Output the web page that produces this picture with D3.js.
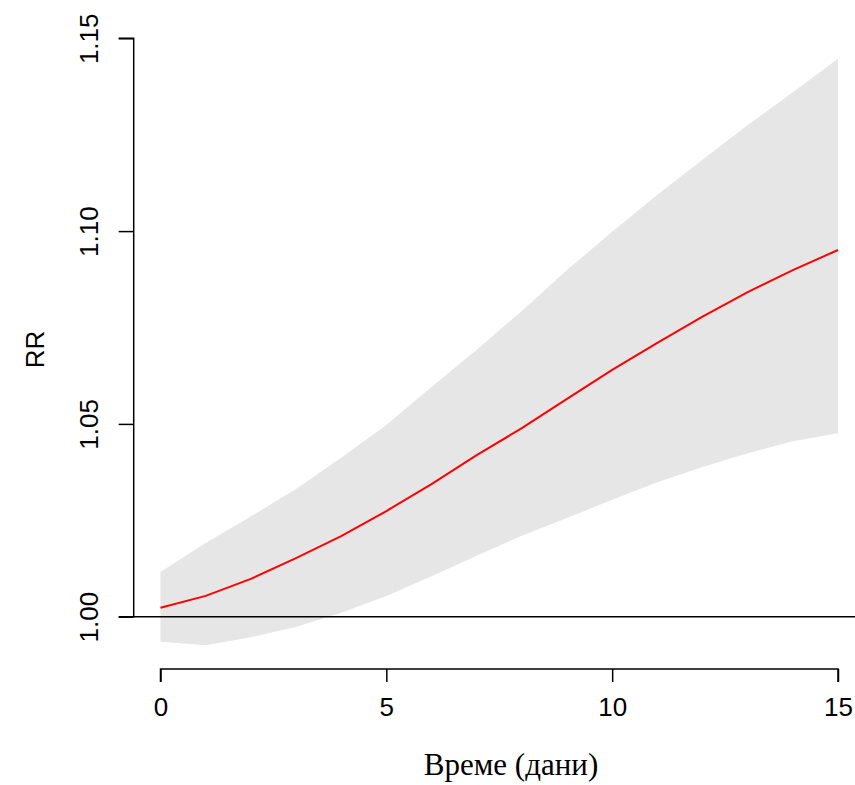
<!DOCTYPE html>
<html>
<head>
<meta charset="utf-8">
<script src="https://cdn.jsdelivr.net/npm/d3@7"></script>
<style>
  html, body { margin: 0; padding: 0; background: #fff; }
  svg { display: block; }
</style>
</head>
<body>
<script>
// Relative risk by lag (days) with its confidence band
const days = [0, 1, 2, 3, 4, 5, 6, 7, 8, 9, 10, 11, 12, 13, 14, 15];
const rr = [1.0023, 1.0054, 1.0098, 1.0152, 1.0209, 1.0274, 1.0344, 1.0419, 1.0489, 1.0565, 1.0640, 1.0710, 1.0778, 1.0842, 1.0899, 1.0951];
const rrHigh = [1.0116, 1.0191, 1.0260, 1.0331, 1.0412, 1.0497, 1.0596, 1.0692, 1.0793, 1.0899, 1.0998, 1.1094, 1.1185, 1.1275, 1.1360, 1.1447];
const rrLow = [0.9935, 0.9926, 0.9947, 0.9973, 1.0010, 1.0054, 1.0105, 1.0158, 1.0210, 1.0256, 1.0303, 1.0349, 1.0388, 1.0424, 1.0455, 1.0476];
const xTicks = [0, 5, 10, 15];
const yTicks = [1.00, 1.05, 1.10, 1.15];
const xTitle = "Време (дани)";
const yTitle = "RR";

const W = 855, H = 785;
const svg = d3.select("body").append("svg").attr("width", W).attr("height", H);

const x = d3.scaleLinear().domain([0, 15]).range([160.5, 838]);
const y = d3.scaleLinear().domain([1.00, 1.15]).range([616.7, 38.3]);

// confidence band
const area = d3.area()
  .x((d, i) => x(days[i]))
  .y0((d, i) => y(rrLow[i]))
  .y1((d, i) => y(rrHigh[i]));
svg.append("path").datum(days).attr("d", area).attr("fill", "#e6e6e6");

// reference line at RR = 1
svg.append("line")
  .attr("x1", 134).attr("x2", W)
  .attr("y1", y(1)).attr("y2", y(1))
  .attr("stroke", "#000").attr("stroke-width", 1.5);

// point estimate
const line = d3.line().x((d, i) => x(days[i])).y((d, i) => y(rr[i]));
svg.append("path").datum(days).attr("d", line)
  .attr("fill", "none").attr("stroke", "#ff0000").attr("stroke-width", 2);

// x axis
const gx = svg.append("g").attr("transform", "translate(0,669)")
  .call(d3.axisBottom(x).tickValues(xTicks).tickSize(13).tickPadding(16).tickFormat(d3.format("d")));
gx.select(".domain").attr("d", `M${x(0)},13V0H${x(15)}V13`).attr("stroke-width", 1.5);
gx.selectAll(".tick line").attr("stroke-width", 1.5);
gx.selectAll("text").attr("font-family", "Liberation Sans, Arial, sans-serif").attr("font-size", 26).attr("fill", "#000");

// y axis
const gy = svg.append("g").attr("transform", "translate(133.7,0)")
  .call(d3.axisLeft(y).tickValues(yTicks).tickSize(15).tickFormat(d3.format(".2f")));
gy.select(".domain").attr("d", `M-15,${y(1.15)}H0V${y(1.00)}H-15`).attr("stroke-width", 1.5);
gy.selectAll(".tick line").attr("stroke-width", 1.5);
gy.selectAll("text")
  .attr("font-family", "Liberation Sans, Arial, sans-serif").attr("font-size", 26).attr("fill", "#000")
  .attr("x", null).attr("dy", null)
  .attr("text-anchor", "middle")
  .attr("transform", "translate(-36,0) rotate(-90)");

// axis titles
svg.append("text").attr("x", 511).attr("y", 775)
  .attr("text-anchor", "middle")
  .attr("font-family", "Liberation Serif, Times New Roman, serif").attr("font-size", 31)
  .text(xTitle);
svg.append("text")
  .attr("transform", `translate(44,${(y(1.00) + y(1.15)) / 2 + 22}) rotate(-90)`)
  .attr("text-anchor", "middle")
  .attr("font-family", "Liberation Sans, Arial, sans-serif").attr("font-size", 26)
  .text(yTitle);
</script>
</body>
</html>
